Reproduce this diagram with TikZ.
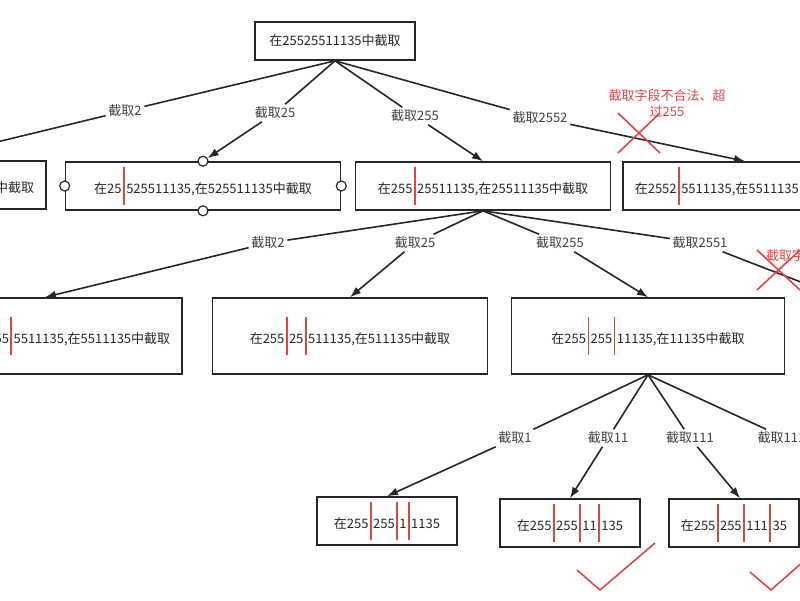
\documentclass[tikz,border=0pt]{standalone}
\usepackage{fontspec}
\setmainfont{Noto Sans CJK SC}
\definecolor{cutred}{RGB}{222,70,70}
\newcommand{\cut}{\kern1.5pt\textcolor{cutred}{\rule[-12pt]{1.6pt}{38pt}}\kern1.5pt}
\tikzset{
    box/.style={draw,line width=1.6pt,minimum height=48pt,inner xsep=12pt,font=\fontsize{13}{15}\selectfont},
    lbl/.style={fill=white,inner sep=2pt,font=\fontsize{13}{15}\selectfont,text=black!75},
    arr/.style={-{Latex[length=11pt,width=8pt]}},
    warn/.style={text=cutred,font=\fontsize{13}{16}\selectfont,align=center},
    port/.style={circle,draw,line width=1.2pt,fill=white,inner sep=0pt,minimum size=10pt}
}
\usetikzlibrary{arrows.meta}
\begin{document}
\begin{tikzpicture}[x=1pt,y=-1pt,line width=1.6pt,black!85]
    \useasboundingbox (0,0) rectangle (800,600);
    \clip (0,0) rectangle (800,600);

    % boxes
    \node[box,minimum height=38pt,minimum width=160pt] (top) at (335,41) {在25525511135中截取};
    \node[box,anchor=east] (A) at (47,185) {在2\cut5525511135,在5525511135中截取};
    \node[box,minimum width=275pt] (B) at (203,186) {在25\cut525511135,在525511135中截取};
    \node[box,minimum width=255pt] (C) at (483,186) {在255\cut25511135,在25511135中截取};
    \node[box,anchor=west] (D) at (622,186) {在2552\cut5511135,在5511135中截取};

    \node[box,anchor=east,minimum height=76pt] (E) at (183,336) {在2\cut55\cut5511135,在5511135中截取};
    \node[box,minimum width=275pt,minimum height=76pt] (F) at (350,336) {在255\cut25\cut511135,在511135中截取};
    \node[box,minimum width=273pt,minimum height=76pt] (G) at (648,336) {在255\cut255\cut11135,在11135中截取};
    \node[box,anchor=west,minimum height=76pt] (K) at (800,336) {截取};

    \node[box,minimum width=140pt] (H) at (387,521) {在255\cut255\cut1\cut1135};
    \node[box,minimum width=140pt] (I) at (570,523) {在255\cut255\cut11\cut135};
    \node[box,anchor=west] (J) at (668,523) {在255\cut255\cut111\cut35};

    \begin{scope}[every node/.style={port}]
        \node (pt) at (B.north) {};
        \node (pb) at (B.south) {};
        \node (pl) at (B.west) {};
        \node (pr) at (B.east) {};
    \end{scope}

    % labels
    \node[lbl] (a1) at (125,111) {截取2};
    \node[lbl] (a2) at (275,113) {截取25};
    \node[lbl] (a3) at (415,116) {截取255};
    \node[lbl] (a4) at (540,118) {截取2552};
    \node[lbl] (b1) at (268,243) {截取2};
    \node[lbl] (b2) at (415,243) {截取25};
    \node[lbl] (b3) at (560,243) {截取255};
    \node[lbl] (b4) at (700,243) {截取2551};
    \node[lbl] (c1) at (515,438) {截取1};
    \node[lbl] (c2) at (608,438) {截取11};
    \node[lbl] (c3) at (690,438) {截取111};
    \node[lbl] (c4) at (785,438) {截取1113};

    % edges
    \draw (top.south) -- (a1);  \draw[arr] (a1) -- (A.north);
    \draw (top.south) -- (a2);  \draw[arr] (a2) -- (pt);
    \draw (top.south) -- (a3);  \draw[arr] (a3) -- (C.north);
    \draw (top.south) -- (a4);  \draw[arr] (a4) -- ([xshift=123pt]D.north west);
    \draw (C.south) -- (b1);  \draw[arr] (b1) -- ([xshift=-138pt]E.north east);
    \draw (C.south) -- (b2);  \draw[arr] (b2) -- (F.north);
    \draw (C.south) -- (b3);  \draw[arr] (b3) -- (G.north);
    \draw (C.south) -- (b4);  \draw[arr] (b4) -- ([xshift=40pt]K.north west);
    \draw (G.south) -- (c1);  \draw[arr] (c1) -- (H.north);
    \draw (G.south) -- (c2);  \draw[arr] (c2) -- (I.north);
    \draw (G.south) -- (c3);  \draw[arr] (c3) -- ([xshift=72pt]J.north west);
    \draw (G.south) -- (c4);

    % marks
    \node[warn] (w1) at (667,103) {截取字段不合法、超\\过255};
    \node[warn,anchor=west] (w2) at (762,256) {截取字段不合法、超};
    \begin{scope}[cutred,line width=1.6pt]
        \draw (618,113) -- (660,153) (660,113) -- (618,153);
        \draw (757,250) -- (800,290) (800,250) -- (757,290);
        \draw (577,570) -- (600,590) -- (655,543);
        \draw (750,572) -- (771,590) -- (805,560);
    \end{scope}
\end{tikzpicture}
\end{document}
